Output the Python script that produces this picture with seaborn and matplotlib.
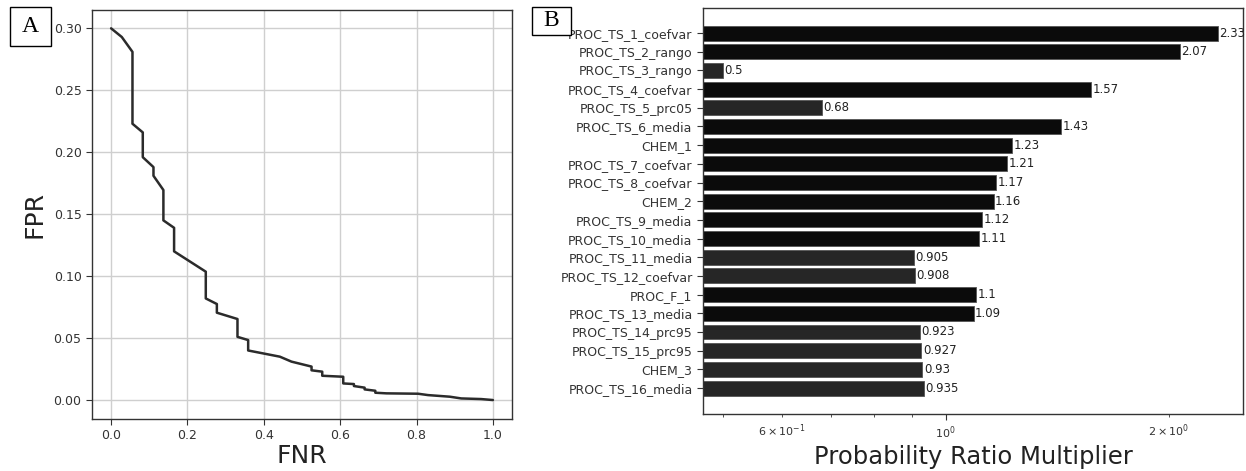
import matplotlib
matplotlib.use("Agg")
import matplotlib.pyplot as plt
from matplotlib.patches import Rectangle
from matplotlib import font_manager
import seaborn as sns
import pandas as pd

# ---------------- data ----------------
fnr = [0.0, 0.028, 0.056, 0.056, 0.083, 0.083, 0.111, 0.111, 0.137, 0.137,
       0.165, 0.165, 0.248, 0.248, 0.277, 0.277, 0.331, 0.331, 0.359, 0.359,
       0.442, 0.4725, 0.525, 0.525, 0.553, 0.553, 0.608, 0.608, 0.636, 0.636,
       0.664, 0.664, 0.692, 0.692, 0.721, 0.804, 0.83, 0.887, 0.917, 0.969, 1.0]
fpr = [0.300, 0.293, 0.281, 0.223, 0.216, 0.196, 0.188, 0.181, 0.1695, 0.145,
       0.139, 0.120, 0.1036, 0.082, 0.0775, 0.0705, 0.0654, 0.051, 0.0484, 0.040,
       0.035, 0.031, 0.027, 0.024, 0.0229, 0.0196, 0.0188, 0.0134, 0.0129, 0.0113,
       0.010, 0.0086, 0.0075, 0.0059, 0.0054, 0.0051, 0.004, 0.0027, 0.0013, 0.0008, 0.0]

features = ["PROC_TS_1_coefvar", "PROC_TS_2_rango", "PROC_TS_3_rango",
            "PROC_TS_4_coefvar", "PROC_TS_5_prc05", "PROC_TS_6_media", "CHEM_1",
            "PROC_TS_7_coefvar", "PROC_TS_8_coefvar", "CHEM_2", "PROC_TS_9_media",
            "PROC_TS_10_media", "PROC_TS_11_media", "PROC_TS_12_coefvar", "PROC_F_1",
            "PROC_TS_13_media", "PROC_TS_14_prc95", "PROC_TS_15_prc95", "CHEM_3",
            "PROC_TS_16_media"]
multipliers = [2.33, 2.07, 0.5, 1.57, 0.68, 1.43, 1.23, 1.21, 1.17, 1.16, 1.12,
               1.11, 0.905, 0.908, 1.1, 1.09, 0.923, 0.927, 0.93, 0.935]
value_labels = ["2.33", "2.07", "0.5", "1.57", "0.68", "1.43", "1.23", "1.21",
                "1.17", "1.16", "1.12", "1.11", "0.905", "0.908", "1.1", "1.09",
                "0.923", "0.927", "0.93", "0.935"]

# ---------------- style ----------------
sns.set_style("white")
plt.rcParams["font.family"] = ["DejaVu Sans"]
available = {f.name for f in font_manager.fontManager.ttflist}
serif = "Liberation Serif" if "Liberation Serif" in available else "DejaVu Serif"

W, H = 1246, 471
fig = plt.figure(figsize=(W / 100, H / 100), dpi=100)

def fig_rect(x0, y0, x1, y1):
    return [x0 / W, 1 - y1 / H, (x1 - x0) / W, (y1 - y0) / H]

axA = fig.add_axes(fig_rect(92, 10, 512, 419))
axB = fig.add_axes(fig_rect(703, 8, 1243, 414))

# ---------------- panel A ----------------
dfA = pd.DataFrame({"FNR": fnr, "FPR": fpr})
sns.lineplot(data=dfA, x="FNR", y="FPR", sort=False, estimator=None,
             color="#2b2b2b", linewidth=1.8, ax=axA)
axA.set_xlim(-0.05, 1.05)
axA.set_ylim(-0.0153, 0.3148)
axA.set_xticks([0.0, 0.2, 0.4, 0.6, 0.8, 1.0])
axA.set_yticks([0.0, 0.05, 0.10, 0.15, 0.20, 0.25, 0.30])
axA.grid(True, color="#cfcfcf", linewidth=1.0)
axA.tick_params(axis="both", labelsize=9, colors="#333333", length=4,
                direction="out", bottom=True, left=True)
axA.set_xlabel("FNR", fontsize=18, color="#222222", labelpad=1)
axA.set_ylabel("FPR", fontsize=18, color="#222222", labelpad=5)
for s in axA.spines.values():
    s.set_color("#333333")
    s.set_linewidth(1.0)

# ---------------- panel B ----------------
bar_colors = ["#0b0b0b" if v >= 1 else "#262626" for v in multipliers]
dfB = pd.DataFrame({"feature": features, "mult": multipliers})
sns.barplot(data=dfB, x="mult", y="feature", hue="feature", palette=bar_colors,
            legend=False, orient="h", width=0.8, edgecolor="#555555",
            linewidth=0.6, ax=axB)
axB.set_xscale("log")
axB.set_xlim(0.470, 2.52)
axB.set_ylim(20.39, -1.34)
for cont, lab in zip(axB.containers, value_labels):
    axB.bar_label(cont, labels=[lab], padding=1, fontsize=8.5, color="#222222")
axB.set_ylabel("")
axB.set_xlabel("Probability Ratio Multiplier", fontsize=17.5, color="#222222",
               labelpad=3)
axB.tick_params(axis="y", labelsize=9, colors="#333333", length=4, left=True)
axB.tick_params(axis="x", which="both", labelsize=8, colors="#333333",
                bottom=True)
axB.tick_params(axis="x", which="major", length=4)
axB.tick_params(axis="x", which="minor", length=2.5)
for s in axB.spines.values():
    s.set_color("#333333")
    s.set_linewidth(1.0)

# ---------------- panel letters ----------------
def letter_box(x0, y0, x1, y1, txt):
    fig.add_artist(Rectangle((x0 / W, 1 - y1 / H), (x1 - x0) / W, (y1 - y0) / H,
                             transform=fig.transFigure, fill=True, fc="white",
                             ec="black", lw=1.0))
    fig.text((x0 + x1) / 2 / W, 1 - (y0 + y1) / 2 / H, txt, ha="center",
             va="center", fontsize=17, family=[serif], color="black")

letter_box(10, 7, 51, 46, "A")
letter_box(532, 7, 571, 35, "B")

fig.savefig("out.png", dpi=100)
